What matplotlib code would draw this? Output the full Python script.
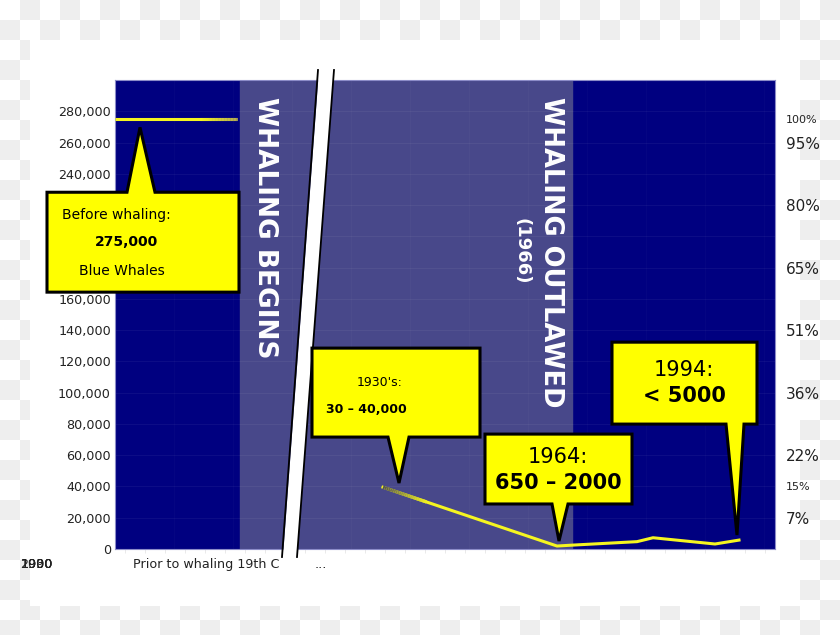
import numpy as np
import matplotlib
matplotlib.use("Agg")
import matplotlib.pyplot as plt
from matplotlib.patches import Polygon, Rectangle
from matplotlib.collections import LineCollection

# population data (x = position along the broken time axis)
pre_x = [0, 12.2]
pre_pop = [275000, 275000]
post_x = [26.8, 44.2, 45.8, 52.2, 53.8, 60.0, 62.4]
post_pop = [39500, 1900, 2500, 4700, 7200, 3200, 5700]

left_ticks = list(range(0, 280001, 20000))
hidden_left = [180000, 200000, 220000]  # sit behind the first callout
right_ticks = [20000, 40000, 60000, 100000, 140000, 180000, 220000, 260000, 275000]
right_labels = ["7%", "15%", "22%", "36%", "51%", "65%", "80%", "95%", "100%"]
small_right = ["15%", "100%"]
x_labels = ["Prior to whaling 19th C", "..."]
x_label_pos = [9.15, 20.6]
stacked_years = ["1930", "1990", "2000", "1900"]

NAVY = "#000080"
BAND = "#48488a"
YEL = "#f5f520"

fig = plt.figure(figsize=(8.4, 6.35), dpi=100)

# checkerboard + white sheet behind everything
bg = fig.add_axes([0, 0, 1, 1], zorder=-10)
bg.axis("off")
chk = np.indices((32, 42)).sum(axis=0) % 2
bg.imshow(chk, cmap=matplotlib.colors.ListedColormap(["white", "#eeeeee"]),
          extent=(0, 840, -5, 635), interpolation="nearest", aspect="auto")
bg.add_patch(Rectangle((30, 29), 770, 566, facecolor="white", edgecolor="none"))
bg.set_xlim(0, 840)
bg.set_ylim(0, 635)

ax = fig.add_axes([115 / 840, 86 / 635, 660 / 840, 469 / 635])
ax.set_facecolor(NAVY)
ax.set_xlim(0, 66)
ax.set_ylim(0, 300000)
ax.axvspan(12.5, 45.7, color=BAND, zorder=0)
for s in ax.spines.values():
    s.set_color("#8c8cc8")
    s.set_linewidth(0.8)

ax.set_yticks(left_ticks, ["" if v in hidden_left else f"{v:,}" for v in left_ticks])
ax.tick_params(axis="y", length=0, pad=3, labelsize=9.2, labelcolor="#222222")
ax.set_xticks(x_label_pos, x_labels)
ax.tick_params(axis="x", length=0, pad=6.5, labelsize=9.2, labelcolor="#222222")
ax.set_xticks(np.arange(1, 66, 2), minor=True)
ax.tick_params(axis="x", which="minor", length=3, color="#e6e6e6")
ax.grid(True, axis="y", color="white", alpha=0.05, linewidth=0.8)
for gx in np.arange(5.9, 66, 5.9):
    ax.axvline(gx, color="white", alpha=0.025, linewidth=0.8, zorder=0.5)

for yr in stacked_years:
    ax.text(-7.85, -0.034, yr, transform=ax.get_xaxis_transform(), ha="center",
            va="center", fontsize=9.2, color="#222222", clip_on=False)

# right percentage axis
ax2 = ax.twinx()
ax2.set_ylim(ax.get_ylim())
ax2.set_yticks(right_ticks, right_labels)
ax2.tick_params(axis="y", length=0, pad=8, labelsize=11, labelcolor="#222222")
for lab in ax2.get_yticklabels():
    if lab.get_text() in small_right:
        lab.set_fontsize(8)
for s in ax2.spines.values():
    s.set_visible(False)

# population line
ax.plot(pre_x, pre_pop, color=YEL, linewidth=2.2, solid_capstyle="butt", zorder=3)
ax.plot(post_x, post_pop, color=YEL, linewidth=2.2, solid_joinstyle="round", zorder=3)

# faded ends of the line
t = np.linspace(0, 1, 25)
c_yel = np.array(matplotlib.colors.to_rgb(YEL))
c_end = np.array([0.62, 0.58, 0.38])
fx = pre_x[0] + (pre_x[1] - pre_x[0]) * (0.7 + 0.3 * t)
segs = [[(fx[i], pre_pop[0]), (fx[i + 1], pre_pop[0])] for i in range(24)]
cols = [tuple(c_yel + (c_end - c_yel) * t[i]) for i in range(24)]
ax.add_collection(LineCollection(segs, colors=cols, linewidth=2.2, zorder=3.1,
                                 capstyle="butt"))
gx0, gy0, gx1, gy1 = post_x[0], post_pop[0], post_x[1], post_pop[1]
px = gx0 + (gx1 - gx0) * 0.25 * t
py = gy0 + (gy1 - gy0) * 0.25 * t
segs2 = [[(px[i], py[i]), (px[i + 1], py[i + 1])] for i in range(24)]
c0 = np.array([0.33, 0.33, 0.33])
cols2 = [tuple(c0 + (c_yel - c0) * t[i]) for i in range(24)]
ax.add_collection(LineCollection(segs2, colors=cols2, linewidth=2.4, zorder=3.1,
                                 capstyle="butt"))


# break marks
def fp(x, y):
    return (x / 840, (635 - y) / 635)


brk = [fp(283, 557), fp(297, 557), fp(334, 70), fp(319, 70)]
ax.add_patch(Polygon(brk, closed=True, transform=fig.transFigure, facecolor="white",
                     edgecolor="none", clip_on=False, zorder=4))
ax.plot(*zip(fp(282, 557), fp(318, 70)), transform=fig.transFigure, color="black",
        linewidth=1.3, clip_on=False, zorder=4.1)
ax.plot(*zip(fp(297, 557), fp(334, 70)), transform=fig.transFigure, color="black",
        linewidth=1.3, clip_on=False, zorder=4.1)

# vertical labels
ax.text(15.0, 0.964, "WHALING BEGINS", transform=ax.get_xaxis_transform(), rotation=-90,
        ha="center", va="top", fontsize=19, fontweight="bold", color="white", zorder=2)
ax.text(43.6, 0.964, "WHALING OUTLAWED", transform=ax.get_xaxis_transform(), rotation=-90,
        ha="center", va="top", fontsize=18.5, fontweight="bold", color="white", zorder=2)
ax.text(40.6, 0.706, "(1966)", transform=ax.get_xaxis_transform(), rotation=-90,
        ha="center", va="top", fontsize=13, fontweight="bold", color="white", zorder=2)


def callout(box, tail, tip, top_tail=False):
    x0, x1, yb, yt = box
    xa, xb = tail
    if top_tail:
        verts = [(x0, yt), (xa, yt), tip, (xb, yt), (x1, yt), (x1, yb), (x0, yb)]
    else:
        verts = [(x0, yt), (x1, yt), (x1, yb), (xb, yb), tip, (xa, yb), (x0, yb)]
    ax.add_patch(Polygon(verts, closed=True, facecolor="#ffff00", edgecolor="black",
                         linewidth=2.2, joinstyle="miter", clip_on=False, zorder=6))


callout((-6.8, 12.4, 164300, 228200), (1.2, 4.0), (2.5, 269700), top_tail=True)
ax.text(0.1, 213500, "Before whaling:", ha="center", va="center", fontsize=10, zorder=7)
ax.text(1.1, 196200, "275,000", ha="center", va="center", fontsize=10,
        fontweight="bold", zorder=7)
ax.text(0.65, 177700, "Blue Whales", ha="center", va="center", fontsize=10, zorder=7)

callout((19.7, 36.5, 71600, 128500), (27.3, 29.4), (28.4, 42200))
ax.text(26.5, 106700, "1930's:", ha="center", va="center", fontsize=9, zorder=7)
ax.text(25.1, 89500, "30 \u2013 40,000", ha="center", va="center", fontsize=9,
        fontweight="bold", zorder=7)

callout((37.0, 51.7, 28800, 73500), (43.7, 45.3), (44.4, 5100))
ax.text(44.3, 58800, "1964:", ha="center", va="center", fontsize=15, zorder=7)
ax.text(44.3, 42200, "650 \u2013 2000", ha="center", va="center", fontsize=15,
        fontweight="bold", zorder=7)

callout((49.7, 64.2, 79900, 132300), (61.1, 62.9), (62.2, 8900))
ax.text(56.9, 114400, "1994:", ha="center", va="center", fontsize=15, zorder=7)
ax.text(56.9, 97800, "< 5000", ha="center", va="center", fontsize=15,
        fontweight="bold", zorder=7)

fig.savefig("out.png", dpi=100)
